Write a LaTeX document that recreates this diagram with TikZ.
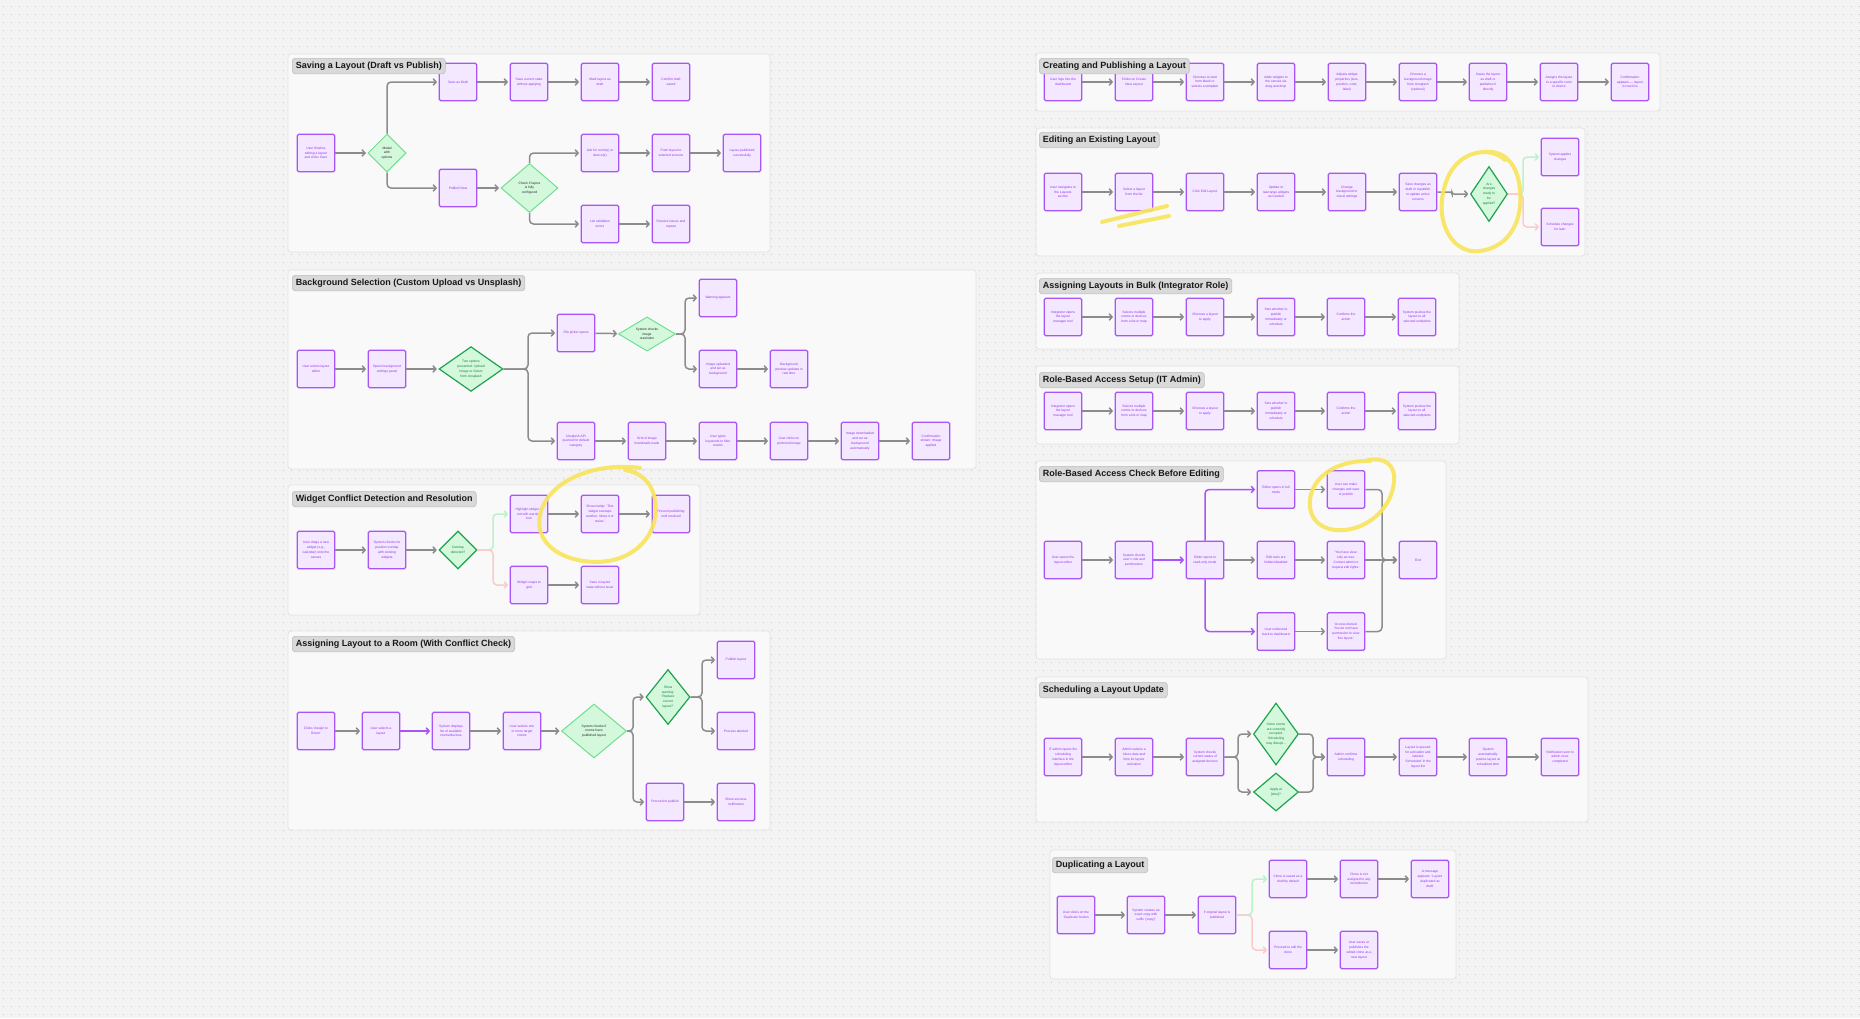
\documentclass[tikz,border=0pt]{standalone}
\usepackage{fontspec}
\setmainfont{Liberation Sans}
\usetikzlibrary{arrows.meta,shapes.geometric,patterns.meta}

\definecolor{canvas}{HTML}{F3F3F3}
\definecolor{griddot}{HTML}{CDCDCD}
\definecolor{panelfill}{HTML}{F9F9F9}
\definecolor{panelline}{HTML}{E3E3E3}
\definecolor{tagfill}{HTML}{D9D9D9}
\definecolor{tagline}{HTML}{BDBDBD}
\definecolor{stepfill}{HTML}{F3E8FF}
\definecolor{stepline}{HTML}{A855F7}
\definecolor{steptext}{HTML}{9333EA}
\definecolor{choicefill}{HTML}{D3F8DC}
\definecolor{choiceline}{HTML}{6FE08F}
\definecolor{choicedark}{HTML}{1FA34F}
\definecolor{choicetext}{HTML}{15803D}
\definecolor{linkgray}{HTML}{8C8C8C}
\definecolor{linkyes}{HTML}{BBF2C8}
\definecolor{linkno}{HTML}{FCCACA}
\definecolor{hilite}{HTML}{F8E45C}

\newcommand{\boxfont}{\fontsize{3.3}{4.8}\selectfont}
\newcommand{\tagfont}{\fontsize{9}{10}\selectfont\bfseries}

\tikzdeclarepattern{
  name=griddots,
  type=uncolored,
  bounding box={(0pt,0pt) and (7.5pt,7.5pt)},
  tile size={(7.5pt,7.5pt)},
  code={\pgfpathcircle{\pgfpoint{3.75pt}{3.75pt}}{0.65pt}\pgfusepath{fill}}
}

\begin{document}
\begin{tikzpicture}[x=1pt,y=-1pt,
    stepbox/.style={draw=stepline,fill=stepfill,line width=1.2pt,rounded corners=1.5pt,
      minimum width=37.5pt,minimum height=37.5pt,inner sep=0pt,align=center,
      font=\boxfont,text=steptext},
    choice/.style={diamond,draw=choiceline,fill=choicefill,line width=1pt,inner sep=0pt,
      align=center,font=\boxfont,text=black!85},
    choicedk/.style={choice,draw=choicedark,line width=1.2pt,text=choicetext},
    link/.style={draw=linkgray,line width=1.5pt,rounded corners=4pt,shorten >=1.5pt,
      -{Straight Barb[length=3pt,width=6.5pt]}},
    linkp/.style={link,draw=stepline},
    linky/.style={link,draw=linkyes},
    linkn/.style={link,draw=linkno},
    panel/.style={fill=panelfill,draw=panelline,line width=0.8pt,rounded corners=3pt},
    tag/.style={anchor=north west,fill=tagfill,draw=tagline,line width=0.6pt,
      rounded corners=3pt,inner xsep=3.5pt,inner ysep=2pt,minimum height=15.5pt,
      font=\tagfont,text=black!90},
    scribble/.style={draw=hilite,line width=4pt,line cap=round,line join=round,opacity=0.9}]

\useasboundingbox (0,0) rectangle (1860,1018);
\fill[canvas] (0,0) rectangle (1860,1018);
\fill[pattern=griddots,pattern color=griddot] (0,0) rectangle (1860,1018);

% panels
\draw[panel] (288,54) rectangle (770,252);
\draw[panel] (288,270) rectangle (976,469);
\draw[panel] (288,485) rectangle (700,615);
\draw[panel] (288,631) rectangle (770,830);
\draw[panel] (1036,53) rectangle (1660,111);
\draw[panel] (1036,128) rectangle (1585,256);
\draw[panel] (1036,273) rectangle (1459,349);
\draw[panel] (1036,366) rectangle (1459,444);
\draw[panel] (1036,461) rectangle (1446,659);
\draw[panel] (1036,677) rectangle (1588,822);
\draw[panel] (1050,850) rectangle (1456,979);

% saving a layout
\node[stepbox] (sv1) at (316,153) {User finishes\\editing a layout\\and clicks Save};
\node[choice,minimum width=38pt,minimum height=38pt] (sv2) at (387,153) {Modal\\with\\options};
\node[stepbox] (sv3) at (458,82) {Save as Draft};
\node[stepbox] (sv4) at (529,82) {Save current state\\without applying};
\node[stepbox] (sv5) at (600,82) {Mark layout as\\draft};
\node[stepbox] (sv6) at (671,82) {Confirm draft\\saved};
\node[stepbox] (sv7) at (458,188) {Publish Now};
\node[choice,minimum width=57pt,minimum height=49pt] (sv8) at (529.5,188) {Check if layout\\is fully\\configured};
\node[stepbox] (sv9) at (600,153) {Ask for room(s) or\\device(s)};
\node[stepbox] (sv10) at (671,153) {Push layout to\\selected screens};
\node[stepbox] (sv11) at (742,153) {Layout published\\successfully};
\node[stepbox] (sv12) at (600,224) {List validation\\errors};
\node[stepbox] (sv13) at (671,224) {Resolve issues and\\repeat};
\draw[link] (sv1) -- (sv2);
\draw[link] (sv2.north) |- (sv3.west);
\draw[link] (sv2.south) |- (sv7.west);
\draw[link] (sv3) -- (sv4);
\draw[link] (sv4) -- (sv5);
\draw[link] (sv5) -- (sv6);
\draw[link] (sv7) -- (sv8);
\draw[link] (sv8.north) |- (sv9.west);
\draw[link] (sv8.south) |- (sv12.west);
\draw[link] (sv9) -- (sv10);
\draw[link] (sv10) -- (sv11);
\draw[link] (sv12) -- (sv13);

% background selection
\node[stepbox] (bg1) at (316,369) {User enters layout\\editor};
\node[stepbox] (bg2) at (387,369) {Opens background\\settings panel};
\node[choicedk,minimum width=64pt,minimum height=44pt] (bg3) at (471,369) {Two options\\presented: Upload\\Image or Select\\from Unsplash};
\node[stepbox] (bg4) at (576,333) {File picker opens};
\node[choice,minimum width=57pt,minimum height=34pt] (bg5) at (647,334) {System checks\\image\\resolution};
\node[stepbox] (bg6) at (718,298) {Warning appears};
\node[stepbox] (bg7) at (718,369) {Image uploaded\\and set as\\background};
\node[stepbox] (bg8) at (789,369) {Background\\preview updates in\\real time};
\node[stepbox] (bg9) at (576,441) {Unsplash API\\queried for default\\category};
\node[stepbox] (bg10) at (647,441) {Grid of image\\thumbnails loads};
\node[stepbox] (bg11) at (718,441) {User types\\keywords to filter\\results};
\node[stepbox] (bg12) at (789,441) {User clicks on\\preferred image};
\node[stepbox] (bg13) at (860,441) {Image downloaded\\and set as\\background\\automatically};
\node[stepbox] (bg14) at (931,441) {Confirmation\\shown: Image\\applied};
\draw[link] (bg1) -- (bg2);
\draw[link] (bg2) -- (bg3);
\draw[link] (bg3.east) -- (528,369) |- (bg4.west);
\draw[link] (bg3.east) -- (528,369) |- (bg9.west);
\draw[link] (bg4) -- (bg5);
\draw[link] (bg5.east) -- (685,334) |- (bg6.west);
\draw[link] (bg5.east) -- (685,334) |- (bg7.west);
\draw[link] (bg7) -- (bg8);
\draw[link] (bg9) -- (bg10);
\draw[link] (bg10) -- (bg11);
\draw[link] (bg11) -- (bg12);
\draw[link] (bg12) -- (bg13);
\draw[link] (bg13) -- (bg14);

% widget conflict
\node[stepbox] (wc1) at (316,550) {User drags a new\\widget (e.g.,\\calendar) onto the\\canvas};
\node[stepbox] (wc2) at (387,550) {System checks for\\position overlap\\with existing\\widgets};
\node[choicedk,minimum width=38pt,minimum height=38pt] (wc3) at (458,550) {Overlap\\detected?};
\node[stepbox] (wc4) at (529,514) {Highlight widget in\\red with warning\\icon};
\node[stepbox] (wc5) at (600,514) {Show tooltip: `This\\widget overlaps\\another. Move it or\\resize.'};
\node[stepbox] (wc6) at (671,514) {Prevent publishing\\until resolved};
\node[stepbox] (wc7) at (529,585) {Widget snaps to\\grid};
\node[stepbox] (wc8) at (600,585) {Save in layout\\state without issue};
\draw[link] (wc1) -- (wc2);
\draw[link] (wc2) -- (wc3);
\draw[linky] (wc3.east) -- (493,550) |- (wc4.west);
\draw[linkn] (wc3.east) -- (493,550) |- (wc7.west);
\draw[link] (wc4) -- (wc5);
\draw[link] (wc5) -- (wc6);
\draw[link] (wc7) -- (wc8);

% assigning layout to a room
\node[stepbox] (ar1) at (316,731) {Clicks `Assign to\\Room'};
\node[stepbox] (ar2) at (381,731) {User selects a\\layout};
\node[stepbox] (ar3) at (451,731) {System displays\\list of available\\rooms/devices};
\node[stepbox] (ar4) at (522,731) {User selects one\\or more target\\rooms};
\node[choice,minimum width=65pt,minimum height=54pt] (ar5) at (594,731) {System checks if\\rooms have\\published layout};
\node[choicedk,minimum width=44pt,minimum height=55pt] (ar6) at (668,697) {Show\\warning:\\`Replace\\current\\layout?'};
\node[stepbox] (ar7) at (736,660) {Publish layout};
\node[stepbox] (ar8) at (736,731) {Process aborted};
\node[stepbox] (ar9) at (665,802) {Proceed to publish};
\node[stepbox] (ar10) at (736,802) {Show success\\notification};
\draw[link] (ar1) -- (ar2);
\draw[linkp] (ar2) -- (ar3);
\draw[link] (ar3) -- (ar4);
\draw[link] (ar4) -- (ar5);
\draw[link] (ar5.east) -- (633,731) |- (ar6.west);
\draw[link] (ar5.east) -- (633,731) |- (ar9.west);
\draw[link] (ar6.east) -- (702,697) |- (ar7.west);
\draw[link] (ar6.east) -- (702,697) |- (ar8.west);
\draw[link] (ar9) -- (ar10);

% creating and publishing
\node[stepbox] (cp1) at (1063,82) {User logs into the\\dashboard};
\node[stepbox] (cp2) at (1134,82) {Clicks on Create\\New Layout};
\node[stepbox] (cp3) at (1205,82) {Chooses to start\\from blank or\\selects a template};
\node[stepbox] (cp4) at (1276,82) {Adds widgets to\\the canvas via\\drag and drop};
\node[stepbox] (cp5) at (1347,82) {Adjusts widget\\properties (size,\\position, color,\\label)};
\node[stepbox] (cp6) at (1418,82) {Chooses a\\background image\\from Unsplash\\(optional)};
\node[stepbox] (cp7) at (1488,82) {Saves the layout\\as draft or\\publishes it\\directly};
\node[stepbox] (cp8) at (1559,82) {Assigns the layout\\to a specific room\\or device};
\node[stepbox] (cp9) at (1630,82) {Confirmation\\appears — layout\\is now live};
\draw[link] (cp1) -- (cp2);
\draw[link] (cp2) -- (cp3);
\draw[link] (cp3) -- (cp4);
\draw[link] (cp4) -- (cp5);
\draw[link] (cp5) -- (cp6);
\draw[link] (cp6) -- (cp7);
\draw[link] (cp7) -- (cp8);
\draw[link] (cp8) -- (cp9);

% editing an existing layout
\node[stepbox] (ed1) at (1063,192) {User navigates to\\the Layouts\\section};
\node[stepbox] (ed2) at (1134,192) {Select a layout\\from the list};
\node[stepbox] (ed3) at (1205,192) {Click Edit Layout};
\node[stepbox] (ed4) at (1276,192) {Update or\\rearrange widgets\\as needed};
\node[stepbox] (ed5) at (1347,192) {Change\\background or\\visual settings};
\node[stepbox] (ed6) at (1418,192) {Save changes as\\draft or republish\\to update active\\screens};
\node[choicedk,minimum width=37pt,minimum height=55pt] (ed7) at (1489,194) {Are\\changes\\ready to\\be\\applied?};
\node[stepbox] (ed8) at (1560,157) {System applies\\changes};
\node[stepbox] (ed9) at (1560,227) {Schedule changes\\for later};
\draw[link] (ed1) -- (ed2);
\draw[link] (ed2) -- (ed3);
\draw[link] (ed3) -- (ed4);
\draw[link] (ed4) -- (ed5);
\draw[link] (ed5) -- (ed6);
\draw[link,rounded corners=2pt] (ed6.east) -- (1452,192) |- (ed7.west);
\draw[linky] (ed7.east) -- (1523,194) |- (ed8.west);
\draw[linkn] (ed7.east) -- (1523,194) |- (ed9.west);

% assigning layouts in bulk
\node[stepbox] (bk1) at (1063,317) {Integrator opens\\the layout\\manager tool};
\node[stepbox] (bk2) at (1134,317) {Selects multiple\\rooms or devices\\from a list or map};
\node[stepbox] (bk3) at (1205,317) {Chooses a layout\\to apply};
\node[stepbox] (bk4) at (1276,317) {Sets whether to\\publish\\immediately or\\schedule};
\node[stepbox] (bk5) at (1346,317) {Confirms the\\action};
\node[stepbox] (bk6) at (1417,317) {System pushes the\\layout to all\\selected endpoints};
\draw[link] (bk1) -- (bk2);
\draw[link] (bk2) -- (bk3);
\draw[link] (bk3) -- (bk4);
\draw[link] (bk4) -- (bk5);
\draw[link] (bk5) -- (bk6);

% role-based access setup
\node[stepbox] (rs1) at (1063,411) {Integrator opens\\the layout\\manager tool};
\node[stepbox] (rs2) at (1134,411) {Selects multiple\\rooms or devices\\from a list or map};
\node[stepbox] (rs3) at (1205,411) {Chooses a layout\\to apply};
\node[stepbox] (rs4) at (1276,411) {Sets whether to\\publish\\immediately or\\schedule};
\node[stepbox] (rs5) at (1346,411) {Confirms the\\action};
\node[stepbox] (rs6) at (1417,411) {System pushes the\\layout to all\\selected endpoints};
\draw[link] (rs1) -- (rs2);
\draw[link] (rs2) -- (rs3);
\draw[link] (rs3) -- (rs4);
\draw[link] (rs4) -- (rs5);
\draw[link] (rs5) -- (rs6);

% role-based access check
\node[stepbox] (ac1) at (1063,560) {User opens the\\layout editor};
\node[stepbox] (ac2) at (1134,560) {System checks\\user's role and\\permissions};
\node[stepbox] (ac3) at (1205,560) {Editor opens in\\read-only mode};
\node[stepbox] (ac4) at (1276,489.5) {Editor opens in full\\mode};
\node[stepbox] (ac5) at (1346,489.5) {User can make\\changes and save\\or publish};
\node[stepbox] (ac6) at (1276,560) {Edit tools are\\hidden/disabled};
\node[stepbox] (ac7) at (1346,560) {`You have view-\\only access.\\Contact admin to\\request edit rights.'};
\node[stepbox] (ac8) at (1418,560) {End};
\node[stepbox] (ac9) at (1276,631.5) {User redirected\\back to dashboard};
\node[stepbox] (ac10) at (1346,631.5) {`Access denied.\\You do not have\\permission to view\\this layout.'};
\draw[link] (ac1) -- (ac2);
\draw[linkp] (ac2) -- (ac3);
\draw[linkp] (ac3.north) |- (ac4.west);
\draw[link] (ac3) -- (ac6);
\draw[linkp] (ac3.south) |- (ac9.west);
\draw[link] (ac4) -- (ac5);
\draw[link] (ac6) -- (ac7);
\draw[link] (ac9) -- (ac10);
\draw[link] (ac5.east) -- (1382,489.5) |- (ac8.west);
\draw[link] (ac7) -- (ac8);
\draw[link] (ac10.east) -- (1382,631.5) |- (ac8.west);

% scheduling a layout update
\node[stepbox] (sc1) at (1063,757) {IT admin opens the\\scheduling\\interface in the\\layout editor};
\node[stepbox] (sc2) at (1134,757) {Admin selects a\\future date and\\time for layout\\activation};
\node[stepbox] (sc3) at (1205,757) {System checks\\current status of\\assigned devices};
\node[choicedk,minimum width=45pt,minimum height=62pt] (sc4) at (1276,734) {Some rooms\\are currently\\occupied.\\Scheduling\\may disrupt...};
\node[choicedk,minimum width=45pt,minimum height=38pt] (sc5) at (1276,792) {Apply at\\{[time]}?};
\node[stepbox] (sc6) at (1346,757) {Admin confirms\\scheduling};
\node[stepbox] (sc7) at (1418,757) {Layout is queued\\for activation and\\labeled\\`Scheduled' in the\\layout list};
\node[stepbox] (sc8) at (1488,757) {System\\automatically\\pushes layout at\\scheduled time};
\node[stepbox] (sc9) at (1560,757) {Notification sent to\\admin once\\completed};
\draw[link] (sc1) -- (sc2);
\draw[link] (sc2) -- (sc3);
\draw[link] (sc3.east) -- (1238,757) |- (sc4.west);
\draw[link] (sc3.east) -- (1238,757) |- (sc5.west);
\draw[link] (sc4.east) -- (1313,734) |- (sc6.west);
\draw[link] (sc5.east) -- (1313,792) |- (sc6.west);
\draw[link] (sc6) -- (sc7);
\draw[link] (sc7) -- (sc8);
\draw[link] (sc8) -- (sc9);

% duplicating a layout
\node[stepbox] (du1) at (1076,915) {User clicks on the\\`Duplicate' button};
\node[stepbox] (du2) at (1146,915) {System creates an\\exact copy with\\suffix `(copy)'};
\node[stepbox] (du3) at (1217,915) {If original layout is\\published};
\node[stepbox] (du4) at (1288,879) {Clone is saved as a\\draft by default};
\node[stepbox] (du5) at (1359,879) {Clone is not\\assigned to any\\room/device};
\node[stepbox] (du6) at (1430,879) {A message\\appears: `Layout\\duplicated as\\draft'};
\node[stepbox] (du7) at (1288,950) {Proceed to edit the\\clone};
\node[stepbox] (du8) at (1359,950) {User saves or\\publishes the\\edited clone as a\\new layout};
\draw[link] (du1) -- (du2);
\draw[link] (du2) -- (du3);
\draw[linky] (du3.east) -- (1252,915) |- (du4.west);
\draw[linkn] (du3.east) -- (1252,915) |- (du7.west);
\draw[link] (du4) -- (du5);
\draw[link] (du5) -- (du6);
\draw[link] (du7) -- (du8);

% titles
\node[tag] (t1) at (292,58) {Saving a Layout (Draft vs Publish)};
\node[tag] (t2) at (292,275) {Background Selection (Custom Upload vs Unsplash)};
\node[tag] (t3) at (292,491) {Widget Conflict Detection and Resolution};
\node[tag] (t4) at (292,636) {Assigning Layout to a Room (With Conflict Check)};
\node[tag] (t5) at (1039,58) {Creating and Publishing a Layout};
\node[tag] (t6) at (1039,132) {Editing an Existing Layout};
\node[tag] (t7) at (1039,278) {Assigning Layouts in Bulk (Integrator Role)};
\node[tag] (t8) at (1039,372) {Role-Based Access Setup (IT Admin)};
\node[tag] (t9) at (1039,466) {Role-Based Access Check Before Editing};
\node[tag] (t10) at (1039,682) {Scheduling a Layout Update};
\node[tag] (t11) at (1052,857) {Duplicating a Layout};

% highlighter marks
\draw[scribble] (640,468) .. controls (600,462) and (548,478) .. (540,515)
  .. controls (533,550) and (575,566) .. (608,561)
  .. controls (640,556) and (660,530) .. (655,500)
  .. controls (652,482) and (640,472) .. (625,470);
\draw[scribble] (1102,222) -- (1167,206);
\draw[scribble] (1119,226) -- (1169,216);
\draw[scribble] (1505,160) .. controls (1490,145) and (1455,150) .. (1445,185)
  .. controls (1433,225) and (1455,255) .. (1480,251)
  .. controls (1510,247) and (1523,220) .. (1520,190)
  .. controls (1518,165) and (1505,150) .. (1485,152);
\draw[scribble] (1370,461) .. controls (1335,460) and (1312,478) .. (1310,500)
  .. controls (1308,522) and (1325,532) .. (1345,530)
  .. controls (1372,527) and (1392,505) .. (1394,482)
  .. controls (1396,465) and (1385,457) .. (1368,460);
\end{tikzpicture}
\end{document}
